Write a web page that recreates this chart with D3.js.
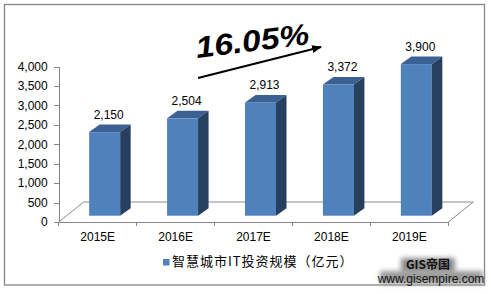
<!DOCTYPE html>
<html>
<head>
<meta charset="utf-8">
<script src="https://cdn.jsdelivr.net/npm/d3@7"></script>
<style>
  body { margin: 0; background: #fff; }
  svg text { font-family: "Liberation Sans", Arial, sans-serif; }
  .axis path, .axis line { stroke: #868686; shape-rendering: crispEdges; }
  .axis text { font-size: 12px; fill: #000; }
</style>
</head>
<body>
<div id="chart"></div>
<script>
const categories = ["2015E", "2016E", "2017E", "2018E", "2019E"];
const values = [2150, 2504, 2913, 3372, 3900];
const yTicks = [0, 500, 1000, 1500, 2000, 2500, 3000, 3500, 4000];
const seriesName = "智慧城市IT投资规模（亿元）";
const growthLabel = "16.05%";

const width = 491, height = 294;
const plot = {left: 58.7, right: 448.3, bottom: 222, top: 66.5};
const depth = {dx: 25, dy: 20};      // floor depth
const bar3d = {dx: 10.5, dy: 7.5};   // bar side depth
const barShift = {dx: 7, dy: 6.3};   // bars stand mid-floor
const barWidth = 31;

const svg = d3.select("#chart").append("svg")
  .attr("width", width)
  .attr("height", height);

// outer frame
svg.append("rect")
  .attr("x", 4.5).attr("y", 4.5)
  .attr("width", 480).attr("height", 280.5)
  .attr("fill", "#fff")
  .attr("stroke", "#868686")
  .attr("stroke-width", 1.3);

const xScale = d3.scaleBand()
  .domain(categories)
  .range([plot.left, plot.right]);

const yScale = d3.scaleLinear()
  .domain([0, 4000])
  .range([plot.bottom, plot.top]);

// floor
svg.append("path")
  .attr("d", "M" + plot.left + "," + plot.bottom +
    "L" + (plot.left + depth.dx) + "," + (plot.bottom - depth.dy) +
    "L" + (plot.right + depth.dx) + "," + (plot.bottom - depth.dy) +
    "L" + plot.right + "," + plot.bottom)
  .attr("fill", "none")
  .attr("stroke", "#8c8c8c")
  .attr("stroke-width", 1);

// bars
const bars = svg.selectAll(".bar")
  .data(categories.map((c, i) => ({cat: c, value: values[i]})))
  .enter().append("g")
  .attr("class", "bar");

const bx = (d) => xScale(d.cat) + xScale.bandwidth() / 2 + barShift.dx - barWidth / 2;
const byTop = (d) => yScale(d.value) - barShift.dy;
const byBot = yScale(0) - barShift.dy;

bars.append("rect")
  .attr("x", bx)
  .attr("y", byTop)
  .attr("width", barWidth)
  .attr("height", (d) => byBot - byTop(d))
  .attr("fill", "#4f81bd");

bars.append("path")
  .attr("d", (d) => {
    const x = bx(d), y = byTop(d);
    return "M" + x + "," + y + "L" + (x + bar3d.dx) + "," + (y - bar3d.dy) +
      "L" + (x + barWidth + bar3d.dx) + "," + (y - bar3d.dy) +
      "L" + (x + barWidth) + "," + y + "Z";
  })
  .attr("fill", "#3b6192");

bars.append("path")
  .attr("d", (d) => {
    const x = bx(d) + barWidth, y = byTop(d);
    return "M" + x + "," + y + "L" + (x + bar3d.dx) + "," + (y - bar3d.dy) +
      "L" + (x + bar3d.dx) + "," + (byBot - bar3d.dy) +
      "L" + x + "," + byBot + "Z";
  })
  .attr("fill", "#283f5e");

bars.append("text")
  .attr("x", (d) => bx(d) + barWidth / 2 + 4)
  .attr("y", (d) => byTop(d) - bar3d.dy - 6)
  .attr("text-anchor", "middle")
  .style("font-size", "12px")
  .text((d) => d3.format(",")(d.value));

// y axis
svg.append("g")
  .attr("class", "axis")
  .attr("transform", "translate(" + plot.left + ",0)")
  .call(d3.axisLeft(yScale).tickValues(yTicks).tickFormat(d3.format(","))
    .tickSize(5).tickSizeOuter(0).tickPadding(6));

// x axis: line with ticks at band edges, labels at band centres
const xAxis = svg.append("g")
  .attr("class", "axis")
  .attr("transform", "translate(0," + plot.bottom + ")");
xAxis.append("line")
  .attr("x1", plot.left).attr("x2", plot.right);
xAxis.selectAll(".edge")
  .data(categories.map((c) => xScale(c)).concat([plot.right]))
  .enter().append("line")
  .attr("class", "edge")
  .attr("x1", (d) => d).attr("x2", (d) => d)
  .attr("y1", 0).attr("y2", 4);
xAxis.selectAll(".cat")
  .data(categories)
  .enter().append("text")
  .attr("class", "cat")
  .attr("x", (d) => xScale(d) + xScale.bandwidth() / 2)
  .attr("y", 19)
  .attr("text-anchor", "middle")
  .text((d) => d);

// growth annotation
const defs = svg.append("defs");
defs.append("marker")
  .attr("id", "arrow")
  .attr("viewBox", "0 0 10 10")
  .attr("refX", 9).attr("refY", 5)
  .attr("markerWidth", 5).attr("markerHeight", 5)
  .attr("orient", "auto")
  .append("path")
  .attr("d", "M0,1L10,5L0,9Z")
  .attr("fill", "#000");

svg.append("line")
  .attr("x1", 198).attr("y1", 78)
  .attr("x2", 321).attr("y2", 47)
  .attr("stroke", "#000")
  .attr("stroke-width", 2)
  .attr("marker-end", "url(#arrow)");

svg.append("text")
  .attr("transform", "translate(197,58) rotate(-7) scale(1.12,1)")
  .style("font-size", "30px")
  .style("font-weight", "bold")
  .style("font-style", "italic")
  .text(growthLabel);

// legend
svg.append("rect")
  .attr("x", 163).attr("y", 259)
  .attr("width", 6.5).attr("height", 6.5)
  .attr("fill", "#4f81bd");
svg.append("text")
  .attr("x", 172).attr("y", 262.5)
  .attr("dominant-baseline", "middle")
  .style("font-family", "'Noto Sans CJK SC', sans-serif")
  .style("font-size", "13px")
  .style("letter-spacing", "1px")
  .text(seriesName);

// watermark
const blur = defs.append("filter").attr("id", "shadow")
  .attr("x", "-20%").attr("y", "-40%").attr("width", "140%").attr("height", "180%");
blur.append("feGaussianBlur").attr("stdDeviation", 2.5);

svg.append("rect")
  .attr("x", 401).attr("y", 258).attr("width", 54).attr("height", 15)
  .attr("fill", "#8a8a8a").attr("filter", "url(#shadow)");
svg.append("rect")
  .attr("x", 380).attr("y", 271).attr("width", 103).attr("height", 13)
  .attr("fill", "#9a9a9a").attr("filter", "url(#shadow)");
svg.append("text")
  .attr("x", 428).attr("y", 269)
  .attr("text-anchor", "middle")
  .style("font-family", "'Noto Sans CJK SC', serif")
  .style("font-size", "12px")
  .style("font-weight", "bold")
  .style("fill", "#111")
  .text("GIS帝国");
svg.append("text")
  .attr("x", 431).attr("y", 283)
  .attr("text-anchor", "middle")
  .style("font-size", "12px")
  .style("fill", "#111")
  .text("www.gisempire.com");
</script>
</body>
</html>
